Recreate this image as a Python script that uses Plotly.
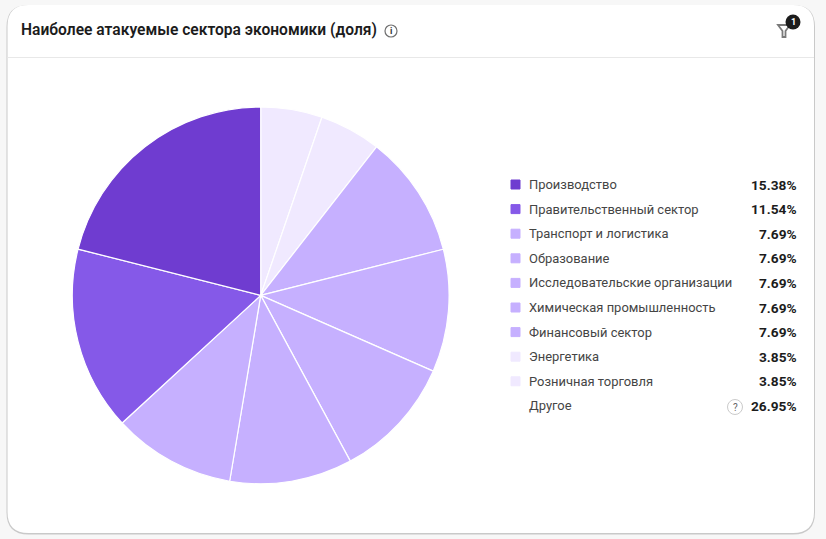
'''
    Pie chart card: most attacked economy sectors (share).
'''
import plotly.graph_objects as go

W = 826
H = 539

TITLE = "Наиболее атакуемые сектора экономики (доля)"
SECTORS = ["Производство", "Правительственный сектор", "Транспорт и логистика", "Образование",
           "Исследовательские организации", "Химическая промышленность", "Финансовый сектор",
           "Энергетика", "Розничная торговля"]
SHARES = [15.38, 11.54, 7.69, 7.69, 7.69, 7.69, 7.69, 3.85, 3.85]
SHARE_LABELS = ["15.38%", "11.54%", "7.69%", "7.69%", "7.69%", "7.69%", "7.69%", "3.85%", "3.85%"]
OTHER_LABEL = "Другое"
OTHER_SHARE = "26.95%"
COLORS = ["#6f3cd0", "#8559e8", "#c6b0ff", "#c6b0ff", "#c6b0ff", "#c6b0ff", "#c6b0ff", "#f0e9ff", "#f0e9ff"]

FONT = "Roboto"
TEXT = "#454545"
DARK = "#1c1c1c"


def rounded_rect(x0, y0, x1, y1, r):
    return (f"M{x0 + r},{y0} L{x1 - r},{y0} Q{x1},{y0} {x1},{y0 + r} L{x1},{y1 - r} Q{x1},{y1} {x1 - r},{y1} "
            f"L{x0 + r},{y1} Q{x0},{y1} {x0},{y1 - r} L{x0},{y0 + r} Q{x0},{y0} {x0 + r},{y0} Z")


fig = go.Figure()

# the pie runs clockwise from the top, smallest slices first
cx, cy, radius = 260.7, 295.4, 188.4
fig.add_trace(go.Pie(
    labels=SECTORS[::-1], values=SHARES[::-1],
    sort=False, direction="clockwise", rotation=0,
    marker=dict(colors=COLORS[::-1], line=dict(color="white", width=1.2)),
    textinfo="none", hoverinfo="label+value", showlegend=False,
    domain=dict(x=[(cx - radius) / W, (cx + radius) / W],
                y=[1 - (cy + radius) / H, 1 - (cy - radius) / H]),
))

# legend rows
row_y = [184.5 + 24.6 * i for i in range(len(SECTORS) + 1)]
fig.add_trace(go.Scatter(
    x=[515.5] * len(SECTORS), y=row_y[:-1], mode="markers", showlegend=False, hoverinfo="skip",
    marker=dict(symbol="square", size=9, color=COLORS, line=dict(color=COLORS, width=1)),
))

annotations = []


def add_text(x, y, text, size=13, color=TEXT, anchor="left", weight=400):
    annotations.append(dict(x=x, y=y, xref="x", yref="y", text=text, showarrow=False, xanchor=anchor,
                            yanchor="middle", font=dict(family=FONT, size=size, color=color, weight=weight),
                            borderpad=0, borderwidth=0))


for name, label, y in zip(SECTORS + [OTHER_LABEL], SHARE_LABELS + [OTHER_SHARE], row_y):
    add_text(529, y, name, size=12.95)
    add_text(796.5, y, label, size=13.7, color=DARK, anchor="right", weight=700)

add_text(21, 30, TITLE, size=15.6, color=DARK, weight=600)

# small icons
fig.add_trace(go.Scatter(
    x=[391, 735], y=[31, 407], mode="markers", showlegend=False, hoverinfo="skip",
    marker=dict(symbol="circle", size=[12, 15], color="white",
                line=dict(color=["#333333", "#b5b5b5"], width=[1.2, 1])),
))
add_text(391, 31, "i", size=9, color="#333333", anchor="center", weight=700)
add_text(735, 407, "?", size=10, color="#666666", anchor="center")
fig.add_trace(go.Scatter(
    x=[793], y=[22], mode="markers", showlegend=False, hoverinfo="skip",
    marker=dict(symbol="circle", size=15, color="#1c1c1c"),
))
add_text(793, 22, "1", size=9, color="white", anchor="center", weight=700)

shapes = [
    # soft card shadow
    dict(type="path", path=rounded_rect(6.5, 5, 815, 534.5, 22), layer="below",
         fillcolor="#c9c9c9", line=dict(width=0)),
    dict(type="path", path=rounded_rect(7.5, 5, 814, 533, 21), layer="below",
         fillcolor="white", line=dict(width=0)),
    dict(type="line", x0=7.5, x1=814, y0=57.5, y1=57.5, layer="below", line=dict(color="#e8e8e8", width=1)),
    # filter icon
    dict(type="path", path="M778,25 L790,25 L785.5,31 L785.5,37 L782.5,37 L782.5,31 Z", layer="below",
         fillcolor="white", line=dict(color="#7a7a7a", width=1.8)),
]

fig.update_layout(
    width=W, height=H, autosize=False,
    margin=dict(l=0, r=0, t=0, b=0),
    paper_bgcolor="#f7f7f7", plot_bgcolor="rgba(0,0,0,0)",
    xaxis=dict(range=[0, W], visible=False, fixedrange=True),
    yaxis=dict(range=[H, 0], visible=False, fixedrange=True),
    shapes=shapes, annotations=annotations,
)

# the page body has a default margin that would push the figure off
fig.write_html("out.html", config=dict(displayModeBar=False),
               post_script="document.body.style.margin='0';document.body.style.overflow='hidden';")
